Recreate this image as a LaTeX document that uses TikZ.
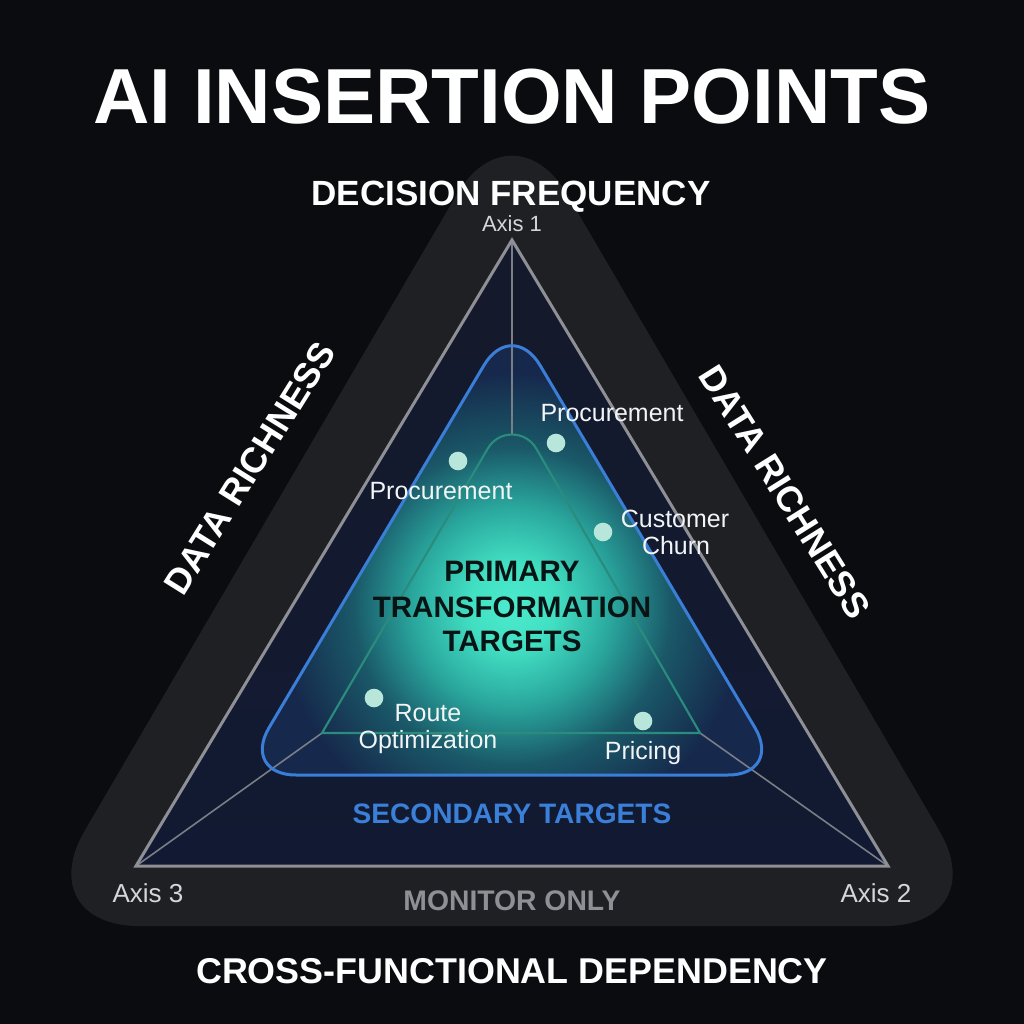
\documentclass[tikz,border=0pt]{standalone}
\usepackage{fontspec}
\setmainfont{Liberation Sans}
\definecolor{bg}{HTML}{0B0C10}
\definecolor{plate}{HTML}{1F2024}
\definecolor{axisline}{HTML}{8E9096}
\definecolor{spokec}{HTML}{7A7E87}
\definecolor{navyA}{HTML}{141A2B}
\definecolor{navyB}{HTML}{121A33}
\definecolor{bluefill}{HTML}{16294C}
\definecolor{bluedge}{HTML}{3B7ED8}
\definecolor{greenedge}{HTML}{2A8C7C}
\definecolor{glowA}{HTML}{4DEBCD}
\definecolor{glowA2}{HTML}{42E0C3}
\definecolor{glowB}{HTML}{2AA89E}
\definecolor{glowC}{HTML}{1A5868}
\definecolor{dotc}{HTML}{B8E6DA}
\definecolor{labc}{HTML}{F2F4F5}
\definecolor{axisc}{HTML}{D4D6DA}
\definecolor{secblue}{HTML}{3A7FD8}
\definecolor{mongray}{HTML}{8E9095}
\definecolor{darktext}{HTML}{081414}
\pgfdeclareradialshading{glowshade}{\pgfpoint{0bp}{0bp}}{color(0bp)=(glowA); color(12bp)=(glowA2); color(28bp)=(glowB); color(45bp)=(glowC); color(66bp)=(bluefill); color(76bp)=(bluefill)}
\newcommand{\fsz}[1]{\fontsize{#1}{#1}\selectfont}
\begin{document}
\begin{tikzpicture}[x=0.01cm,y=-0.01cm,
  txt/.style={inner sep=0pt, anchor=base},
  heading/.style={txt, text=white, font=\fsz{10pt}\bfseries},
  label/.style={txt, text=labc, font=\fsz{7.1pt}},
  axislab/.style={txt, text=axisc, font=\fsz{7.4pt}},
  core/.style={txt, text=darktext, font=\fsz{8.4pt}\bfseries},
  dot/.style={circle, fill=dotc, inner sep=0pt, minimum size=0.186cm},
  spoke/.style={draw=spokec, line width=0.45pt}]
\useasboundingbox (0,0) rectangle (1024,1024);
\fill[bg] (0,0) rectangle (1024,1024);
% plate
\fill[plate, rounded corners=1.1cm] (512,926) -- (995,926) -- (512,100) -- (29,926) -- cycle;
% outer triangle
\coordinate (A1) at (512,240);
\coordinate (A2) at (888,866);
\coordinate (A3) at (136,866);
\coordinate (G1) at (512,434);
\coordinate (G2) at (700,733);
\coordinate (G3) at (322,733);
\shade[top color=navyA, bottom color=navyB] (A1) -- (A2) -- (A3) -- cycle;
% blue region with glow
\fill[bluefill, rounded corners=0.55cm] (512,775) -- (783,775) -- (512,318) -- (241,775) -- cycle;
\begin{scope}
  \clip[rounded corners=0.55cm] (512,775) -- (783,775) -- (512,318) -- (241,775) -- cycle;
  \node[inner sep=0pt] (glow) at (512,606) {\pgfuseshading{glowshade}};
\end{scope}
% spokes
\draw[spoke] (A1) -- (G1);
\draw[spoke] (A2) -- (G2);
\draw[spoke] (A3) -- (G3);
% green triangle
\draw[greenedge, line width=0.6pt, line join=round] (G3) -- (487.8,448.5) .. controls (498.6,429.9) and (525.4,429.9) .. (536.2,448.5) -- (G2) -- cycle;
% blue border
\draw[bluedge, line width=0.85pt, rounded corners=0.55cm] (512,775) -- (783,775) -- (512,318) -- (241,775) -- cycle;
% outer border
\draw[axisline, line width=0.85pt, line join=miter] (A1) -- (A2) -- (A3) -- cycle;
% dots
\node[dot] (d1) at (458,461) {};
\node[dot] (d2) at (556,443) {};
\node[dot] (d3) at (603,532) {};
\node[dot] (d4) at (374,698) {};
\node[dot] (d5) at (643,721) {};
% labels
\node[label] (l1) at (612,421) {Procurement};
\node[label] (l2) at (441,499) {Procurement};
\node[label] (l3a) at (675,527) {Customer};
\node[label] (l3b) at (676,554) {Churn};
\node[label] (l4a) at (428,721) {Route};
\node[label] (l4b) at (428,748) {Optimization};
\node[label] (l5) at (643,759) {Pricing};
% core text
\node[core] (c1) at (512,581) {PRIMARY};
\node[core] (c2) at (512,617) {TRANSFORMATION};
\node[core] (c3) at (512,651) {TARGETS};
\node[txt, text=secblue, font=\fsz{8.0pt}\bfseries] (sec) at (512,823) {SECONDARY TARGETS};
\node[txt, text=mongray, font=\fsz{8.05pt}\bfseries] (mon) at (512,910) {MONITOR ONLY};
% axes
\node[txt, text=axisc, font=\fsz{6.26pt}] (ax1) at (512,231) {Axis 1};
\node[axislab] (ax3) at (148,902) {Axis 3};
\node[axislab] (ax2) at (876,902) {Axis 2};
% headings
\node[txt, text=white, font=\fsz{22.2pt}\bfseries] (title) at (512,123) {AI INSERTION POINTS};
\node[heading, font=\fsz{9.96pt}\bfseries] (df) at (511,205) {DECISION FREQUENCY};
\node[heading, font=\fsz{10.2pt}\bfseries] (cf) at (512,983) {CROSS-FUNCTIONAL DEPENDENCY};
\node[inner sep=0pt, text=white, font=\fsz{10.2pt}\bfseries, rotate=58] (drl) at (250,468) {DATA RICHNESS};
\node[inner sep=0pt, text=white, font=\fsz{10.2pt}\bfseries, rotate=-58] (drr) at (785,492) {DATA RICHNESS};
\end{tikzpicture}
\end{document}
